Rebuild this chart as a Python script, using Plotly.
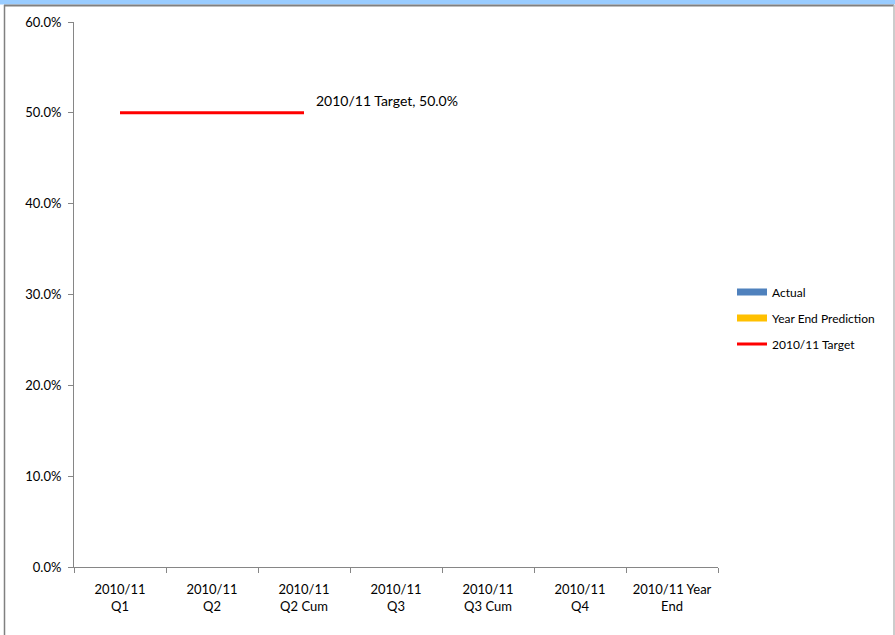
import plotly.graph_objects as go

categories = ["2010/11<br>Q1", "2010/11<br>Q2", "2010/11<br>Q2 Cum", "2010/11<br>Q3",
              "2010/11<br>Q3 Cum", "2010/11<br>Q4", "2010/11 Year<br>End"]
actual = [None, None, None, None, None, None, None]
year_end_prediction = [None, None, None, None, None, None, None]
target = [0.5, 0.5, 0.5, None, None, None, None]
target_name = "2010/11 Target"

W, H = 895, 635
L, R, T, B = 74, 718, 22, 567

def px(p):
    return (p - L) / (R - L)

def py(p):
    return (B - p) / (B - T)

FONT = "Lato"

fig = go.Figure()
# bar series (empty in this chart); legend shown via wide-swatch entries
fig.add_trace(go.Bar(x=categories, y=actual, name="Actual", marker_color="#4F81BD",
                     showlegend=False, legendgroup="a"))
fig.add_trace(go.Bar(x=categories, y=year_end_prediction, name="Year End Prediction",
                     marker_color="#FFC000", showlegend=False, legendgroup="b"))
fig.add_trace(go.Scatter(x=categories, y=actual, name="Actual", mode="lines",
                         line=dict(color="#4F81BD", width=7), legendgroup="a"))
fig.add_trace(go.Scatter(x=categories, y=year_end_prediction, name="Year End Prediction",
                         mode="lines", line=dict(color="#FFC000", width=7), legendgroup="b"))
fig.add_trace(go.Scatter(x=categories, y=target, name=target_name, mode="lines",
                         line=dict(color="#FF0000", width=3), legendgroup="c"))

last_idx = max(i for i, v in enumerate(target) if v is not None)
fig.add_annotation(x=categories[last_idx], y=target[last_idx],
                   text=f"{target_name}, {target[last_idx]:.1%}",
                   showarrow=False, xanchor="left", yanchor="middle",
                   xshift=10, yshift=12, font=dict(family=FONT, size=14, color="#000000"))

# frame decorations
fig.add_shape(type="rect", xref="paper", yref="paper", x0=px(-1), x1=px(W + 1), y0=py(4.5), y1=py(-1),
              fillcolor="#99CCFF", line_width=0, layer="above")
fig.add_shape(type="line", xref="paper", yref="paper", x0=px(4), x1=px(894), y0=py(5.5), y1=py(5.5),
              line=dict(color="#808080", width=2))
fig.add_shape(type="line", xref="paper", yref="paper", x0=px(4.5), x1=px(4.5), y0=py(5), y1=py(640),
              line=dict(color="#808080", width=1.5))
fig.add_shape(type="line", xref="paper", yref="paper", x0=px(894), x1=px(894), y0=py(5), y1=py(640),
              line=dict(color="#BBBBBB", width=1.5))

fig.update_layout(
    width=W, height=H,
    margin=dict(l=L, r=W - R, t=T, b=H - B),
    paper_bgcolor="white", plot_bgcolor="white",
    font=dict(family=FONT, size=13, color="#000000"),
    showlegend=True,
    legend=dict(x=px(732), y=py(318), xanchor="left", yanchor="middle",
                font=dict(family=FONT, size=12), itemwidth=30,
                tracegroupgap=7, bgcolor="rgba(0,0,0,0)"),
    barmode="group",
)
fig.update_xaxes(type="category", showline=True, linecolor="#868686", linewidth=1,
                 ticks="outside", ticklen=5, tickcolor="#868686", tickson="boundaries",
                 showgrid=False, zeroline=False, tickfont=dict(family=FONT, size=13),
                 ticklabelstandoff=10)
fig.update_yaxes(range=[0, 0.6], dtick=0.1, tickformat=".1%", showline=True,
                 linecolor="#868686", linewidth=1, ticks="outside", ticklen=5,
                 tickcolor="#868686", showgrid=False, zeroline=False,
                 tickfont=dict(family=FONT, size=13), ticklabelstandoff=4)

fig.write_html("out.html", post_script="document.body.style.margin='0';",
               config={"displayModeBar": False})
